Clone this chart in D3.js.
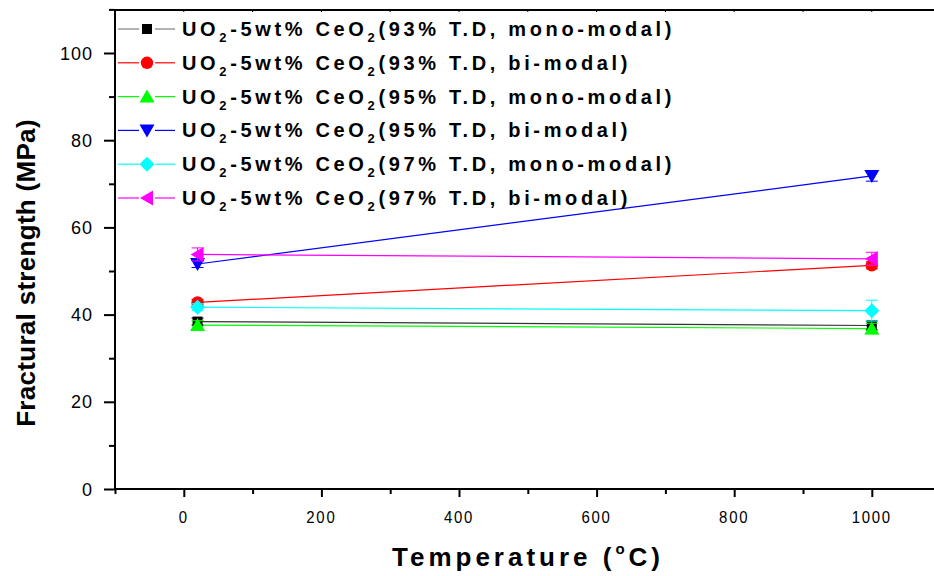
<!DOCTYPE html>
<html><head><meta charset="utf-8">
<script src="https://cdn.jsdelivr.net/npm/d3@7"></script>
<style>body{margin:0;background:#fff}svg{display:block}text{font-family:"Liberation Sans",Arial,sans-serif}</style>
</head><body><svg id="c" width="934" height="576"></svg>
<script>
const temps = [20, 1000];
const seriesNames = [
  ["93% T.D, mono-modal"], ["93% T.D, bi-modal"], ["95% T.D, mono-modal"],
  ["95% T.D, bi-modal"], ["97% T.D, mono-modal"], ["97% T.D, bi-modal"]
];
const s1 = [38.4, 37.5], e1 = [0.8, 1.0];
const s2 = [42.8, 51.3], e2 = [0.7, 0.8];
const s3 = [37.6, 36.8], e3 = [1.0, 1.2];
const s4 = [51.6, 71.8], e4 = [0.8, 1.2];
const s5 = [41.7, 40.9], e5 = [0.8, 2.4];
const s6 = [53.8, 52.8], e6 = [1.5, 1.5];
const xTicks = [0, 200, 400, 600, 800, 1000];
const yTicks = [0, 20, 40, 60, 80, 100];

const colors = ["#000000", "#ff0000", "#00ff00", "#0000ff", "#00ffff", "#ff00ff"];
const lineColors = ["#333333", "#ff0000", "#00ff00", "#0000ff", "#00ffff", "#ff00ff"];
const legendLineColors = ["#808080", "#ff0000", "#00ff00", "#0000ff", "#00ffff", "#ff00ff"];
const values = [s1, s2, s3, s4, s5, s6];
const errs = [e1, e2, e3, e4, e5, e6];

const svg = d3.select("#c");
const x = d3.scaleLinear().domain([-100, 1100]).range([115, 940.6]);
const y = d3.scaleLinear().domain([0, 110]).range([489, 9.4]);

function marker(g, i, cx, cy) {
  const c = colors[i];
  if (i === 0) g.append("rect").attr("x", cx-5).attr("y", cy-5).attr("width", 10).attr("height", 10).attr("fill", c);
  else if (i === 1) g.append("circle").attr("cx", cx).attr("cy", cy).attr("r", 6.2).attr("fill", c);
  else if (i === 2) g.append("path").attr("d", `M${cx},${cy-7}L${cx+7.5},${cy+6}L${cx-7.5},${cy+6}Z`).attr("fill", c);
  else if (i === 3) g.append("path").attr("d", `M${cx},${cy+7}L${cx+7.5},${cy-6}L${cx-7.5},${cy-6}Z`).attr("fill", c);
  else if (i === 4) g.append("path").attr("d", `M${cx},${cy-7.5}L${cx+7.5},${cy}L${cx},${cy+7.5}L${cx-7.5},${cy}Z`).attr("fill", c);
  else g.append("path").attr("d", `M${cx-7},${cy}L${cx+6},${cy-7.5}L${cx+6},${cy+7.5}Z`).attr("fill", c);
}

const xAxis = d3.axisBottom(x).tickValues(d3.range(-100, 1101, 100)).tickSize(8).tickFormat("");
const gx = svg.append("g").attr("transform", "translate(0,489)").call(xAxis);
gx.select(".domain").attr("stroke-width", 2).attr("d", "M115,0H934");
gx.selectAll(".tick line").attr("stroke-width", 2).attr("y2", d => (d % 200 === 0 ? 8 : 5));
xTicks.forEach(t => {
  svg.append("text").attr("x", x(t)).attr("y", 523).attr("text-anchor", "middle")
    .attr("font-size", 17).attr("letter-spacing", 2)
    .attr("transform", `translate(${x(t)},0) scale(0.88,1) translate(${-x(t)},0)`)
    .text(t);
});

const yAxis = d3.axisLeft(y).tickValues(d3.range(0, 111, 10)).tickSize(10).tickFormat("");
const gy = svg.append("g").attr("transform", "translate(115,0)").call(yAxis);
gy.select(".domain").attr("stroke-width", 2).attr("d", "M0,489V9");
gy.selectAll(".tick line").attr("stroke-width", 2).attr("x2", d => (d % 20 === 0 ? -11 : -6));
yTicks.forEach(t => {
  svg.append("text").attr("x", 93).attr("y", y(t) + 6.5).attr("text-anchor", "end")
    .attr("font-size", 18).attr("letter-spacing", 1).text(t);
});
svg.append("line").attr("x1", 114).attr("x2", 934).attr("y1", 10).attr("y2", 10).attr("stroke", "#000").attr("stroke-width", 2);
const topTicks = d3.range(-100, 1101, 100);
svg.selectAll(".tt").data(topTicks).enter().append("line")
  .attr("x1", d => x(d)).attr("x2", d => x(d)).attr("y1", 10).attr("y2", 12).attr("stroke", "#000").attr("stroke-width", 1);

svg.append("text").attr("transform", "translate(35,273) rotate(-90)").attr("text-anchor", "middle")
  .attr("font-size", 26).attr("font-weight", "bold").attr("letter-spacing", 0.3).text("Fractural strength (MPa)");
const xt = svg.append("text").attr("x", 528).attr("y", 566).attr("text-anchor", "middle")
  .attr("font-size", 26).attr("font-weight", "bold").attr("letter-spacing", 4);
xt.append("tspan").text("Temperature (");
xt.append("tspan").attr("font-size", 15).attr("dy", -12).text("o");
xt.append("tspan").attr("dy", 12).text("C)");

const plot = svg.append("g");
values.forEach((vals, i) => {
  const pts = temps.map((t, j) => [x(t), y(vals[j])]);
  plot.append("path").attr("d", d3.line()(pts)).attr("fill", "none").attr("stroke", lineColors[i]).attr("stroke-width", 1.2);
});
values.forEach((vals, i) => {
  temps.forEach((t, j) => {
    const cx = x(t), cy = y(vals[j]);
    const e = errs[i][j];
    const g = plot.append("g");
    g.append("line").attr("x1", cx).attr("x2", cx).attr("y1", y(vals[j]+e)).attr("y2", y(vals[j]-e)).attr("stroke", colors[i]).attr("stroke-width", 1);
    [vals[j]+e, vals[j]-e].forEach(v => g.append("line").attr("x1", cx-6).attr("x2", cx+6).attr("y1", y(v)).attr("y2", y(v)).attr("stroke", colors[i]).attr("stroke-width", 1));
    marker(g, i, cx, cy);
  });
});

const leg = svg.append("g");
seriesNames.forEach((n, i) => {
  const ly = 29 + i * 33.8;
  leg.append("line").attr("x1", 118).attr("x2", 139).attr("y1", ly).attr("y2", ly).attr("stroke", legendLineColors[i]).attr("stroke-width", 1.2);
  leg.append("line").attr("x1", 155).attr("x2", 175).attr("y1", ly).attr("y2", ly).attr("stroke", legendLineColors[i]).attr("stroke-width", 1.2);
  marker(leg, i, 147, ly);
  const t = leg.append("text").attr("x", 182).attr("y", ly + 7).attr("font-size", 20).attr("font-weight", "bold").attr("letter-spacing", 3.65);
  t.append("tspan").text("UO");
  t.append("tspan").attr("font-size", 13).attr("dy", 6).text("2");
  t.append("tspan").attr("dy", -6).text("-5wt% CeO");
  t.append("tspan").attr("font-size", 13).attr("dy", 6).text("2");
  t.append("tspan").attr("dy", -6).text("(" + n[0] + ")");
});
</script></body></html>
